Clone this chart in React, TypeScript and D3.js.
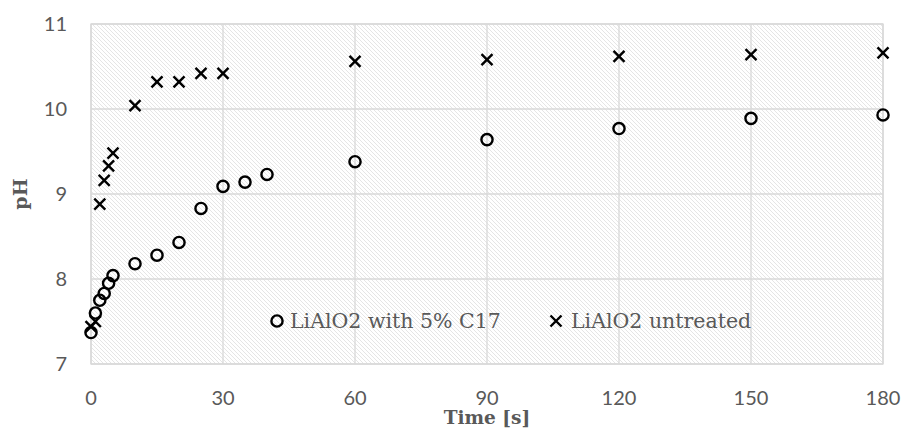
import React from "react";
import * as d3 from "d3";

const timeC = [0, 1, 2, 3, 4, 5, 10, 15, 20, 25, 30, 35, 40, 60, 90, 120, 150, 180];
const phC = [7.37, 7.6, 7.75, 7.83, 7.95, 8.04, 8.18, 8.28, 8.43, 8.83, 9.09, 9.14, 9.23, 9.38, 9.64, 9.77, 9.89, 9.93];
const timeX = [0, 1, 2, 3, 4, 5, 10, 15, 20, 25, 30, 60, 90, 120, 150, 180];
const phX = [7.44, 7.5, 8.88, 9.16, 9.33, 9.48, 10.04, 10.32, 10.32, 10.42, 10.42, 10.56, 10.58, 10.62, 10.64, 10.66];
const xTicks = [0, 30, 60, 90, 120, 150, 180];
const yTicks = [7, 8, 9, 10, 11];
const seriesNames = ["LiAlO2 with 5% C17", "LiAlO2 untreated"];

const W = 903;
const H = 428;
const left = 91;
const right = 883;
const top = 24;
const bottom = 364;

export default function App() {
  const x = d3.scaleLinear().domain([0, 180]).range([left, right]);
  const y = d3.scaleLinear().domain([7, 11]).range([bottom, top]);
  const tickFont = "Lato, 'Open Sans', sans-serif";
  const serif = "'DejaVu Serif', serif";
  const grey = "#595959";
  const cross = (cx: number, cy: number, s: number) =>
    `M${cx - s},${cy - s}L${cx + s},${cy + s}M${cx + s},${cy - s}L${cx - s},${cy + s}`;

  return (
    <div style={{ position: "fixed", left: 0, top: 0 }}>
      <svg width={W} height={H} style={{ display: "block", background: "#fff" }}>
        <defs>
          <pattern id="hatch" width={4} height={4} patternUnits="userSpaceOnUse">
            <rect width={4} height={4} fill="#fff" />
            <path d="M-1,-1L5,5M3,-1L5,1M-1,3L1,5" stroke="#e2e2e2" strokeWidth={0.9} />
          </pattern>
        </defs>
        <rect x={left} y={top} width={right - left} height={bottom - top} fill="url(#hatch)" />
        {xTicks.map((t) => (
          <line key={"gx" + t} x1={x(t)} x2={x(t)} y1={top} y2={bottom} stroke="#d9d9d9" strokeWidth={1.3} />
        ))}
        {yTicks.map((t) => (
          <line key={"gy" + t} x1={left} x2={right} y1={y(t)} y2={y(t)} stroke="#d9d9d9" strokeWidth={1.3} />
        ))}
        <rect x={left} y={top} width={right - left} height={bottom - top} fill="none" stroke="#d9d9d9" strokeWidth={1.3} />
        {yTicks.map((t) => (
          <text key={"ly" + t} x={67} y={y(t)} dy="0.35em" textAnchor="end" fontFamily={tickFont} fontSize={20} fill={grey}>
            {t}
          </text>
        ))}
        {xTicks.map((t) => (
          <text key={"lx" + t} x={x(t)} y={405} textAnchor="middle" fontFamily={tickFont} fontSize={20} fill={grey}>
            {t}
          </text>
        ))}
        <text x={(left + right) / 2} y={424} textAnchor="middle" fontFamily={serif} fontWeight="bold" fontSize={18.5} fill={grey}>
          Time [s]
        </text>
        <text
          transform={`translate(27,${(top + bottom) / 2}) rotate(-90)`}
          textAnchor="middle"
          fontFamily={serif}
          fontWeight="bold"
          fontSize={19}
          fill={grey}
        >
          pH
        </text>
        {timeC.map((t, i) => (
          <circle key={"c" + i} cx={x(t)} cy={y(phC[i])} r={5.6} fill="none" stroke="#000" strokeWidth={2.4} />
        ))}
        {timeX.map((t, i) => (
          <path key={"x" + i} d={cross(x(t), y(phX[i]), 5.5)} stroke="#000" strokeWidth={2.4} fill="none" />
        ))}
        <g>
          <circle cx={277} cy={321} r={5.6} fill="none" stroke="#000" strokeWidth={2.4} />
          <text x={290} y={321} dy="0.35em" fontFamily={serif} fontSize={20.5} fill={grey}>
            {seriesNames[0]}
          </text>
          <path d={cross(556, 321, 5.5)} stroke="#000" strokeWidth={2.4} />
          <text x={571} y={321} dy="0.35em" fontFamily={serif} fontSize={20.5} fill={grey}>
            {seriesNames[1]}
          </text>
        </g>
      </svg>
    </div>
  );
}
